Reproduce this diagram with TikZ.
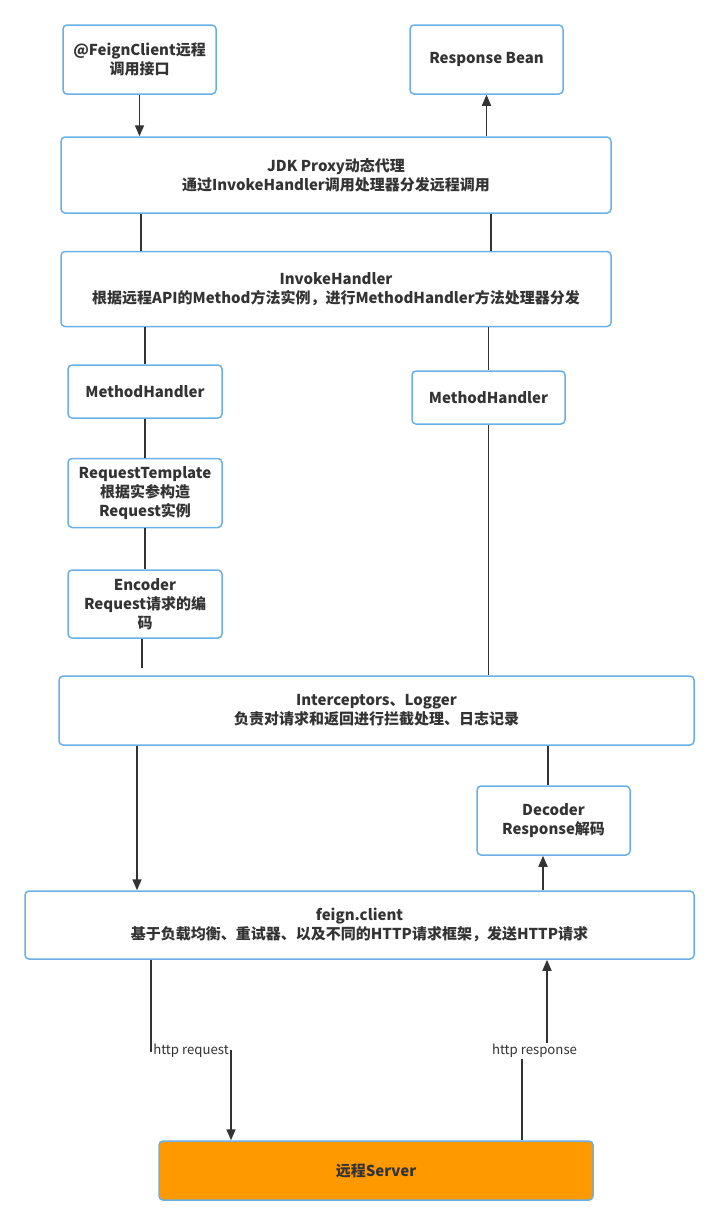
\documentclass[tikz,border=0pt]{standalone}
\usepackage{fontspec}
\setmainfont{Noto Sans CJK SC}
\usetikzlibrary{arrows.meta, positioning}
\definecolor{BoxBlue}{HTML}{6AB0E6}
\definecolor{LineDark}{HTML}{333333}
\definecolor{ServerOrange}{HTML}{FF9900}

\begin{document}
\begin{tikzpicture}[x=1pt, y=1pt,
  every node/.style={align=center, text=LineDark},
  box/.style={draw=BoxBlue, line width=1.5pt, fill=white, rounded corners=4pt, inner sep=0pt, font=\fontsize{15pt}{19pt}\selectfont\bfseries},
  link/.style={draw=LineDark, line width=1.6pt},
  arr/.style={link, -{Triangle[length=11pt, width=9pt]}},
  lbl/.style={fill=white, inner sep=1pt, font=\fontsize{13.2pt}{15pt}\selectfont}]
\useasboundingbox (0,0) rectangle (719,-1226);

\node[box, minimum width=153pt, minimum height=69pt] (api) at (139.5,-59.5) {@FeignClient远程\\调用接口};
\node[box, minimum width=153pt, minimum height=69pt] (bean) at (486.5,-59.5) {Response Bean};
\node[box, minimum width=550pt, minimum height=76pt] (proxy) at (336,-175) {JDK Proxy动态代理\\通过InvokeHandler调用处理器分发远程调用};
\node[box, minimum width=550pt, minimum height=75pt, below=37pt of proxy] (invoke) {InvokeHandler\\根据远程API的Method方法实例，进行MethodHandler方法处理器分发};

\node[box, minimum width=154pt, minimum height=53pt] (mhreq) at (145,-391.5) {MethodHandler};
\node[box, minimum width=154pt, minimum height=69pt, below=39pt of mhreq] (tpl) {RequestTemplate\\根据实参构造\\Request实例};
\node[box, minimum width=154pt, minimum height=68pt, below=41pt of tpl] (enc) {Encoder\\Request请求的编\\码};
\node[box, minimum width=153pt, minimum height=53pt] (mhresp) at (488.5,-397.5) {MethodHandler};

\node[box, minimum width=635pt, minimum height=69pt] (inter) at (376.5,-710.5) {Interceptors、Logger\\负责对请求和返回进行拦截处理、日志记录};
\node[box, minimum width=153pt, minimum height=69pt] (dec) at (553.5,-820.5) {Decoder\\Response解码};
\node[box, minimum width=669pt, minimum height=68pt] (client) at (359.5,-925) {feign.client\\基于负载均衡、重试器、以及不同的HTTP请求框架，发送HTTP请求};
\node[box, fill=ServerOrange, minimum width=434pt, minimum height=59pt] (server) at (376,-1170.5) {远程Server};

% columns of the connectors
\coordinate (pl) at (141,0);
\coordinate (pr) at (491,0);
\coordinate (cin) at (137,0);
\coordinate (cdec) at (548,0);
\coordinate (cup) at (543,0);
\coordinate (encend) at (142,-668);
\coordinate (rqa) at (151,-1051);
\coordinate (rqb) at (231,-1051);
\coordinate (rsa) at (522,-1051);
\coordinate (rsb) at (547,-1051);

% Arrows
\draw[arr] (api) -- (api |- proxy.north);
\draw[arr] (proxy.north -| bean) -- (bean);
\draw[link] (proxy.south -| pl) -- (invoke.north -| pl);
\draw[link] (proxy.south -| pr) -- (invoke.north -| pr);
\draw[link] (invoke.south -| mhreq) -- (mhreq);
\draw[link] (invoke.south -| mhresp) -- (mhresp);
\draw[link] (mhreq) -- (tpl);
\draw[link] (tpl) -- (enc);
\draw[link] (enc.south -| encend) -- (encend);
\draw[link] (mhresp) -- (mhresp |- inter.north);
\draw[arr] (inter.south -| cin) -- (client.north -| cin);
\draw[link] (inter.south -| cdec) -- (dec.north -| cdec);
\draw[arr] (client.north -| cup) -- (dec.south -| cup);
\draw[arr] (client.south -| rqa) -- (rqa) -- node[lbl]{http request} (rqb) -- (server.north -| rqb);
\draw[arr] (server.north -| rsa) -- (rsa) -- node[lbl]{http response} (rsb) -- (client.south -| rsb);
\end{tikzpicture}
\end{document}
